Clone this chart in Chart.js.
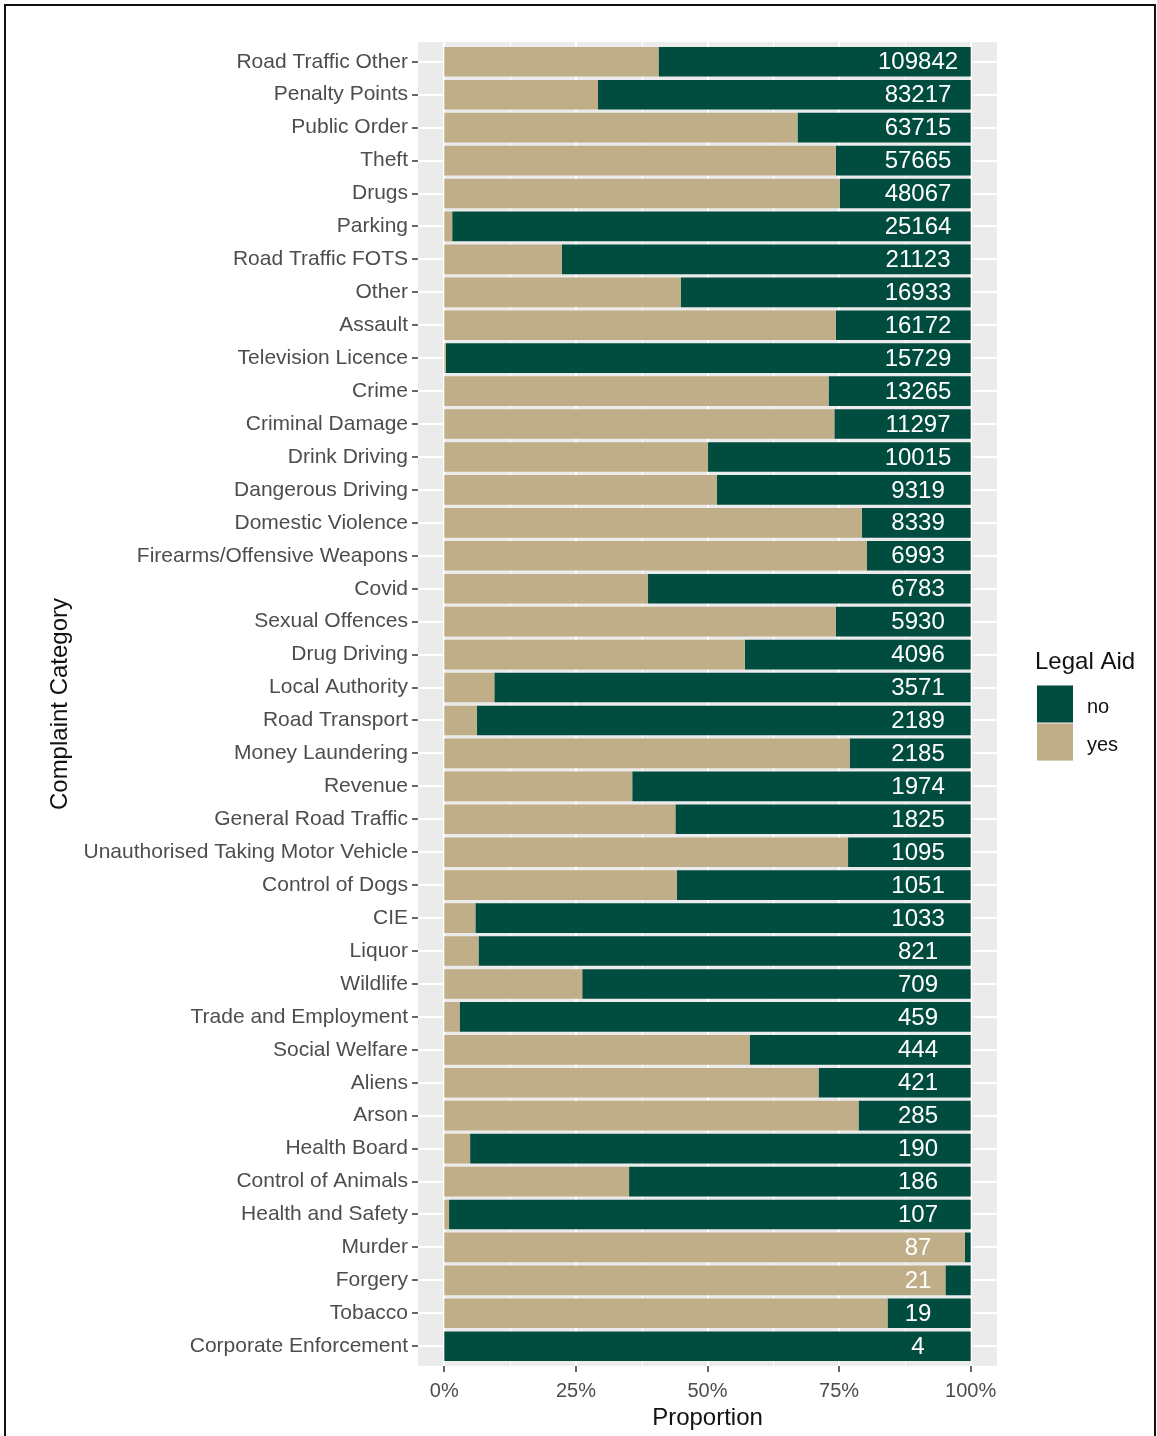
<!DOCTYPE html>
<html>
<head>
<meta charset="utf-8">
<script src="https://cdn.jsdelivr.net/npm/chart.js@4.4.1/dist/chart.umd.min.js"></script>
<style>
  html, body { margin: 0; padding: 0; background: #fff; }
  #wrap { position: relative; width: 1157px; height: 1436px; overflow: hidden; }
  #chart { position: absolute; left: 0; top: 0; }
  #frame { position: absolute; left: 4px; top: 4px; width: 1148px; height: 1450px;
           border: 2px solid #111; pointer-events: none; }
</style>
</head>
<body>
<div id="wrap">
  <canvas id="chart" width="1157" height="1436"></canvas>
  <div id="frame"></div>
</div>
<script>
/* ============ DATA ============ */

const categories = [
  "Road Traffic Other", "Penalty Points", "Public Order", "Theft", "Drugs",
  "Parking", "Road Traffic FOTS", "Other", "Assault", "Television Licence",
  "Crime", "Criminal Damage", "Drink Driving", "Dangerous Driving", "Domestic Violence",
  "Firearms/Offensive Weapons", "Covid", "Sexual Offences", "Drug Driving", "Local Authority",
  "Road Transport", "Money Laundering", "Revenue", "General Road Traffic", "Unauthorised Taking Motor Vehicle",
  "Control of Dogs", "CIE", "Liquor", "Wildlife", "Trade and Employment",
  "Social Welfare", "Aliens", "Arson", "Health Board", "Control of Animals",
  "Health and Safety", "Murder", "Forgery", "Tobacco", "Corporate Enforcement"
];

// share of cases with legal aid = yes
const yesShare = [
  0.407, 0.292, 0.671, 0.744, 0.751,
  0.015, 0.223, 0.449, 0.744, 0.003,
  0.730, 0.741, 0.501, 0.518, 0.793,
  0.803, 0.387, 0.744, 0.571, 0.095,
  0.062, 0.770, 0.357, 0.439, 0.767,
  0.442, 0.059, 0.065, 0.262, 0.029,
  0.580, 0.711, 0.787, 0.049, 0.351,
  0.009, 0.989, 0.952, 0.842, 0
];

// share of cases with legal aid = no
const noShare = [
  0.593, 0.708, 0.329, 0.256, 0.249,
  0.985, 0.777, 0.551, 0.256, 0.997,
  0.270, 0.259, 0.499, 0.482, 0.207,
  0.197, 0.613, 0.256, 0.429, 0.905,
  0.938, 0.230, 0.643, 0.561, 0.233,
  0.558, 0.941, 0.935, 0.738, 0.971,
  0.420, 0.289, 0.213, 0.951, 0.649,
  0.991, 0.011, 0.048, 0.158, 1
];

// number of cases per category
const totals = [
  109842, 83217, 63715, 57665, 48067,
  25164, 21123, 16933, 16172, 15729,
  13265, 11297, 10015, 9319, 8339,
  6993, 6783, 5930, 4096, 3571,
  2189, 2185, 1974, 1825, 1095,
  1051, 1033, 821, 709, 459,
  444, 421, 285, 190, 186,
  107, 87, 21, 19, 4
];

const majorTicks = [0, 0.25, 0.5, 0.75, 1];
const minorTicks = [0.125, 0.375, 0.625, 0.875];
const labelPos = 0.9;

/* ============ STYLE ============ */

const FONT = "'Liberation Sans', Arial, sans-serif";
const COL_NO = "#004D40";
const COL_YES = "#BFAE87";
const PANEL = "#EBEBEB";
const EXTRA = 3.3;   // ggplot discrete expansion is 0.6 of a row, chart.js gives 0.5

/* ============ PLUGINS ============ */

// grey panel + vertical grid lines + x tick marks (panel slightly taller than chart area)
const panelBg = {
  id: "panelBg",
  beforeDraw(chart) {
    const { ctx, chartArea: a, scales: { x } } = chart;
    const top = a.top - EXTRA, bottom = a.bottom + EXTRA;
    ctx.save();
    ctx.fillStyle = PANEL;
    ctx.fillRect(a.left, top, a.right - a.left, bottom - top);

    ctx.strokeStyle = "#ffffff";
    minorTicks.forEach(v => {
      const px = Math.round(x.getPixelForValue(v)) + 0.5;
      ctx.lineWidth = 1;
      ctx.beginPath(); ctx.moveTo(px, top); ctx.lineTo(px, bottom); ctx.stroke();
    });
    majorTicks.forEach(v => {
      const px = Math.round(x.getPixelForValue(v));
      ctx.lineWidth = 2;
      ctx.beginPath(); ctx.moveTo(px, top); ctx.lineTo(px, bottom); ctx.stroke();
    });

    ctx.strokeStyle = "#333333";
    ctx.lineWidth = 1.5;
    majorTicks.forEach(v => {
      const px = Math.round(x.getPixelForValue(v));
      ctx.beginPath(); ctx.moveTo(px, bottom); ctx.lineTo(px, bottom + 6); ctx.stroke();
    });
    ctx.restore();
  }
};

const countLabels = {
  id: "countLabels",
  afterDatasetsDraw(chart) {
    const { ctx, scales: { x, y } } = chart;
    ctx.save();
    ctx.fillStyle = "#ffffff";
    ctx.font = "24px " + FONT;
    ctx.textAlign = "center";
    ctx.textBaseline = "middle";
    totals.forEach((t, i) => {
      ctx.fillText(String(t), x.getPixelForValue(labelPos), y.getPixelForValue(i) + 1);
    });
    ctx.restore();
  }
};

const sideLegend = {
  id: "sideLegend",
  afterDraw(chart) {
    const { ctx, chartArea: a } = chart;
    const left = a.right + 40;
    const cy = (a.top + a.bottom) / 2;
    ctx.save();
    ctx.fillStyle = "#111";
    ctx.font = "24px " + FONT;
    ctx.textAlign = "left";
    ctx.textBaseline = "middle";
    ctx.fillText("Legal Aid", left - 2, cy - 42);

    const ds = chart.data.datasets.slice().reverse(); // no first, then yes
    ds.forEach((d, i) => {
      const top = cy - 19 + i * 38;
      ctx.fillStyle = "#F2F2F2";
      ctx.fillRect(left, top, 36, 38);
      ctx.fillStyle = d.backgroundColor;
      ctx.fillRect(left, top + 0.5, 36, 37);
      ctx.fillStyle = "#111";
      ctx.font = "20px " + FONT;
      ctx.fillText(d.label, left + 50, top + 22);
    });
    ctx.restore();
  }
};

/* ============ CHART ============ */

new Chart(document.getElementById("chart"), {
  type: "bar",
  data: {
    labels: categories,
    datasets: [
      { label: "yes", data: yesShare, backgroundColor: COL_YES,
        categoryPercentage: 0.9, barPercentage: 1.0 },
      { label: "no", data: noShare, backgroundColor: COL_NO,
        categoryPercentage: 0.9, barPercentage: 1.0 }
    ]
  },
  options: {
    indexAxis: "y",
    responsive: false,
    animation: false,
    events: [],
    layout: { padding: { top: 42 + EXTRA, right: 160, bottom: 0, left: 0 } },
    plugins: {
      legend: { display: false },
      tooltip: { enabled: false }
    },
    scales: {
      x: {
        type: "linear",
        stacked: true,
        min: -0.05,
        max: 1.05,
        afterBuildTicks: s => {
          s.ticks = majorTicks.map(v => ({ value: v }));
        },
        afterFit: s => { s.height = 70 + EXTRA; },
        ticks: {
          autoSkip: false,
          maxRotation: 0,
          padding: 5 + EXTRA,
          color: "#4D4D4D",
          font: { family: FONT, size: 20 },
          callback: v => Math.round(v * 100) + "%"
        },
        grid: { display: false },
        border: { display: false },
        title: {
          display: true,
          text: "Proportion",
          color: "#111",
          font: { family: FONT, size: 24 },
          padding: { top: 0, bottom: 3 }
        }
      },
      y: {
        type: "category",
        stacked: true,
        offset: true,
        afterFit: s => { s.width = 418; },
        ticks: {
          autoSkip: false,
          padding: 4,
          color: "#4D4D4D",
          font: { family: FONT, size: 21 }
        },
        grid: {
          offset: false,
          color: "#ffffff",
          lineWidth: 2,
          tickColor: "#333333",
          tickWidth: 1.5,
          tickLength: 6
        },
        border: { display: false },
        title: {
          display: true,
          text: "Complaint Category",
          color: "#111",
          font: { family: FONT, size: 24 },
          padding: { top: 46, bottom: 0 }
        }
      }
    }
  },
  plugins: [panelBg, countLabels, sideLegend]
});
</script>
</body>
</html>
